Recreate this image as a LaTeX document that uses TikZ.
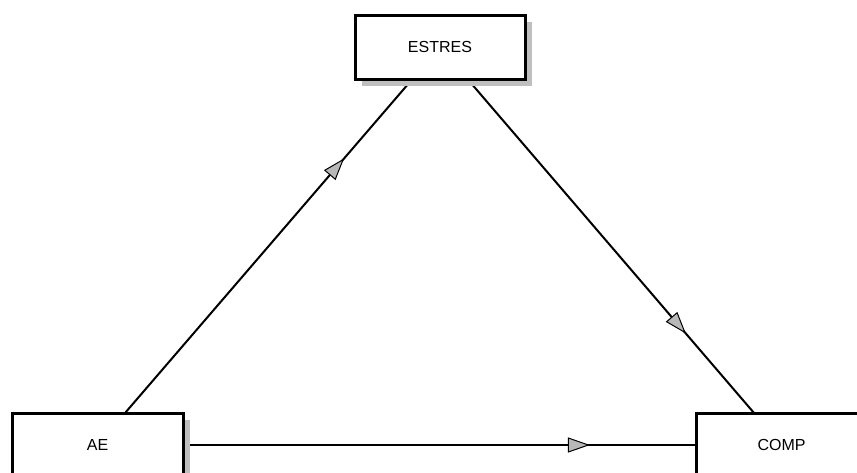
\documentclass[tikz,border=0pt]{standalone}
\usepackage{fontspec}
\setmainfont{Liberation Sans}
\usetikzlibrary{arrows.meta,shadows,decorations.markings}

\pgfdeclarelayer{background}
\pgfsetlayers{background,main}

\tikzset{
    varbox/.style={draw=black, line width=3pt, fill=white,
        minimum width=171pt, minimum height=64pt, inner sep=0pt,
        font=\fontsize{16}{18}\selectfont,
        drop shadow={shadow xshift=7pt, shadow yshift=-7pt,
            fill=black!25, opacity=1}},
    pathline/.style={draw=black, line width=2pt,
        decoration={markings, mark=at position #1 with
            {\arrow{Triangle[length=22pt, width=15pt, fill=black!28, line width=1pt]}}},
        postaction={decorate}},
    pathline/.default=0.72
}

\begin{document}
\begin{tikzpicture}[x=1pt, y=-1pt]

    % page is 857 x 472
    \clip (0,0) rectangle (857,472);

    % variables
    \node[varbox, minimum width=170pt] (estres) at (440,47) {ESTRES};
    \node[varbox] (ae) at (97.5,445) {AE};
    \node[varbox] (comp) at (781.5,445) {COMP};

    % paths, kept under the boxes
    \begin{pgfonlayer}{background}
        \draw[pathline] (ae.center) -- (estres.center);
        \draw[pathline] (estres.center) -- (comp.center);
        \draw[pathline] (ae.center) -- (comp.center);
    \end{pgfonlayer}

\end{tikzpicture}
\end{document}
